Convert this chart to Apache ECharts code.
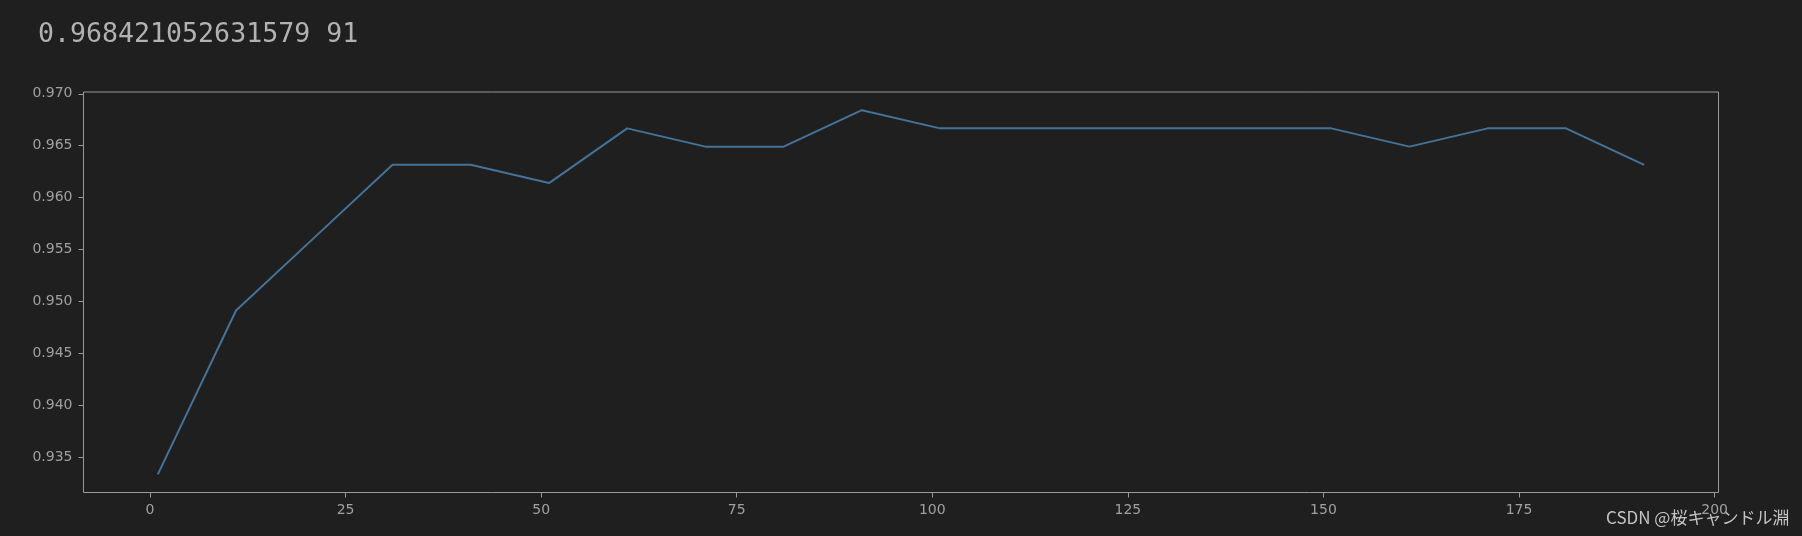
<!DOCTYPE html>
<html>
<head>
<meta charset="utf-8">
<script src="https://cdn.jsdelivr.net/npm/echarts@6/dist/echarts.min.js"></script>
<style>
html,body{margin:0;padding:0;background:#1f1f1f;}
#c{width:1802px;height:536px;}
</style>
</head>
<body>
<div id="c"></div>
<script>
// ---- data ----
const xValues = [1, 11, 21, 31, 41, 51, 61, 71, 81, 91, 101, 111, 121, 131, 141, 151, 161, 171, 181, 191];
const accuracy = [0.93333, 0.94912, 0.95614, 0.96316, 0.96316, 0.96140, 0.96667, 0.96491, 0.96491, 0.96842,
                  0.96667, 0.96667, 0.96667, 0.96667, 0.96667, 0.96667, 0.96491, 0.96667, 0.96667, 0.96316];
const headerText = '0.968421052631579 91';
const watermarkText = 'CSDN @桜キャンドル淵';

// ---- layout / style ----
const axisColor = '#9a9a9a';
const labelColor = '#a0a0a0';
const xRange = [-8.5, 200.5];
const yRange = [0.931579, 0.970175];

const chart = echarts.init(document.getElementById('c'));
const seriesData = xValues.map((x, i) => [x, accuracy[i]]);

chart.setOption({
  backgroundColor: '#1f1f1f',
  animation: false,
  grid: [
    { left: 83.5, right: 83.5, top: 92, bottom: 43.5, show: true, borderColor: axisColor, borderWidth: 1, backgroundColor: 'transparent' },
    { left: 150.0, right: 87.4, top: 92, bottom: 43.5 },
    { left: 83.5, right: 83.5, top: 93.8, bottom: 79.0 }
  ],
  xAxis: [
    { gridIndex: 0, type: 'value', min: xRange[0], max: xRange[1], show: false },
    { gridIndex: 1, type: 'value', min: 0, max: 200, interval: 25,
      axisLine: { show: false }, splitLine: { show: false },
      axisTick: { show: true, length: 5, lineStyle: { color: axisColor, width: 1 } },
      axisLabel: { color: labelColor, fontSize: 14, fontFamily: 'DejaVu Sans', margin: 11 } },
    { gridIndex: 2, type: 'value', min: 0, max: 1, show: false }
  ],
  yAxis: [
    { gridIndex: 0, type: 'value', min: yRange[0], max: yRange[1], show: false },
    { gridIndex: 1, type: 'value', min: 0, max: 1, show: false },
    { gridIndex: 2, type: 'value', min: 0.935, max: 0.970, interval: 0.005,
      axisLine: { show: false }, splitLine: { show: false },
      axisTick: { show: true, length: 5, lineStyle: { color: axisColor, width: 1 } },
      axisLabel: { color: labelColor, fontSize: 14, fontFamily: 'DejaVu Sans', margin: 11,
                   formatter: v => v.toFixed(3) } }
  ],
  series: [{
    type: 'line',
    xAxisIndex: 0, yAxisIndex: 0,
    data: seriesData,
    showSymbol: false,
    symbol: 'none',
    lineStyle: { color: '#44739a', width: 2 },
    silent: true
  }],
  graphic: [
    { type: 'text', left: 38, top: 22,
      style: { text: headerText, font: '26.6px "DejaVu Sans Mono"', fill: '#b2b2b2' } },
    { type: 'text', left: 1606, top: 509,
      style: { text: watermarkText, font: '17px "Noto Sans CJK JP"', fill: '#c4c4c4' } }
  ]
});
</script>
</body>
</html>
